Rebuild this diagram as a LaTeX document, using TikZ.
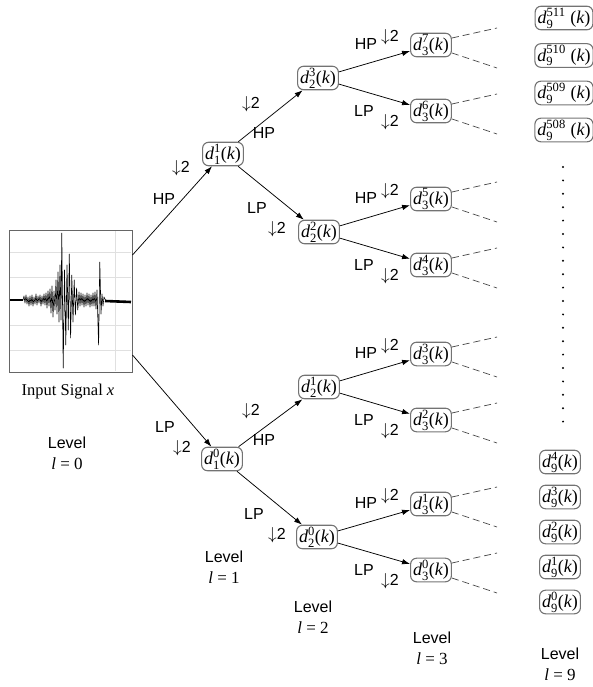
\documentclass[tikz,border=0pt]{standalone}
\usepackage{fontspec}
\setmainfont{Liberation Serif}
\setsansfont{Liberation Sans}
\usepackage{amsmath}
\usetikzlibrary{arrows.meta}
\newcommand\dk[2]{$\textit{d}^{\text{#2}}_{\text{#1}}\text{(}\textit{k}\text{)}$}
\newcommand\dks[2]{$\textit{d}^{\text{#2}}_{\text{#1}}\;\text{(}\textit{k}\text{)}$}
\newcommand\dsym{$\downarrow$2}
\begin{document}
\begin{tikzpicture}[x=1pt,y=-1pt,
 box/.style={draw=black!55, line width=1.1pt, rounded corners=6pt, inner xsep=2.5pt, inner ysep=1.5pt, minimum height=23pt, font=\rmfamily\fontsize{18}{20}\selectfont},
 edge/.style={line width=0.75pt, -{Latex[length=8pt,width=5.5pt]}},
 dline/.style={draw=black!70, line width=0.75pt, dash pattern=on 7pt off 4pt},
 lab/.style={inner sep=0pt, font=\sffamily\fontsize{16}{19}\selectfont},
 lvl/.style={inner sep=0pt, align=center, font=\sffamily\fontsize{16}{21}\selectfont}]
\useasboundingbox (0,0) rectangle (592,687);

% input signal panel
\node[draw=black!60, line width=1pt, minimum width=123pt, minimum height=142pt, inner sep=0pt] (sig) at (70.5,301) {};
\foreach \g in {252,277,325,350}{\draw[black!12, line width=0.5pt] (10,\g) -- (131,\g);}
\draw[black!12, line width=0.5pt] (115,231) -- (115,371);
\draw[line width=2.2pt] (10,300) -- (23,300);
\draw[line width=2.6pt] (105,301) -- (131,302);
\draw[line width=0.6pt, line join=round] plot coordinates {(22,300)(23,300)(24,296)(25,303)(26,295)(27,304)(28,297)(29,306)(30,296)(31,305)(32,295)(33,306)(34,297)(35,304)(36,294)(37,305)(38,296)(39,303)(40,295)(41,306)(42,296)(43,304)(44,294)(45,305)(46,293)(47,308)(48,291)(49,306)(50,289)(51,313)(52,286)(53,317)(54,291)(55,310)(56,280)(57,314)(58,272)(59,322)(60,265)(61,320)(61.8,233)(63.2,368)(64.5,270)(65.8,345)(67,265)(68.3,330)(69.3,254)(70.6,338)(71.8,275)(73,322)(74.2,280)(75.4,315)(76.6,288)(77.8,310)(79,292)(80,306)(81,293)(82,305)(83,294)(84,307)(85,295)(86,306)(87,293)(88,305)(89,294)(90,307)(91,295)(92,306)(93,293)(94,306)(95,292)(96,309)(97,290)(98.6,345)(99.8,262)(101,314)(102,294)(103,306)(104,297)(106,301)};
\node[inner sep=0pt, font=\rmfamily\fontsize{16.5}{20}\selectfont] (cap) at (68,392) {Input Signal \textit{x}};

% level 1 and 2 nodes
\node[box] (d11) at (223,154) {\dk{1}{1}};
\node[box] (d10) at (222,459) {\dk{1}{0}};
\node[box] (d23) at (318,78) {\dk{2}{3}};
\node[box] (d22) at (319,232) {\dk{2}{2}};
\node[box] (d21) at (319,387) {\dk{2}{1}};
\node[box] (d20) at (317,537) {\dk{2}{0}};

% level 3 nodes with dashed continuations
\foreach \n/\y in {7/45,6/111,5/199,4/265,3/354,2/420,1/504,0/570}{
 \node[box] (d3\n) at (431,\y) {\dk{3}{\n}};
 \coordinate (e3\n a) at (497,\y-17);
 \coordinate (e3\n b) at (497,\y+23);
 \draw[dline] ([yshift=7pt]d3\n.east) -- (e3\n a);
 \draw[dline] ([yshift=-8pt]d3\n.east) -- (e3\n b);
}

% level 9 nodes
\node[box] (d9a) at (564,18) {\dks{9}{511}};
\node[box] (d9b) at (564,55.5) {\dks{9}{510}};
\node[box] (d9c) at (564,93) {\dks{9}{509}};
\node[box] (d9d) at (564,130) {\dks{9}{508}};
\foreach \k in {0,...,19}{\fill (563,{167+\k*13.4}) circle (1.1pt);}
\foreach \n/\y in {4/462,3/497,2/532,1/567,0/602}{
 \node[box] (d9\n) at (560,\y) {\dk{9}{\n}};
}

% level 0 -> 1
\draw[edge] ([yshift=46pt]sig.east) -- (d11);
\draw[edge] ([yshift=-54pt]sig.east) -- (d10);
\node[lab] (l0a) at (181,168) {\dsym};
\node[lab] (l0b) at (164,199) {HP};
\node[lab] (l0c) at (165,427) {LP};
\node[lab] (l0d) at (182,448) {\dsym};

% level 1 -> 2
\draw[edge] (d11) -- (d23);
\draw[edge] (d11) -- (d22);
\draw[edge] (d10) -- (d21);
\draw[edge] (d10) -- (d20);
\node[lab] (l1a) at (251,104) {\dsym};
\node[lab] (l1b) at (264,133) {HP};
\node[lab] (l1c) at (257,208) {LP};
\node[lab] (l1d) at (277,229) {\dsym};
\node[lab] (l1e) at (251,411) {\dsym};
\node[lab] (l1f) at (264,440) {HP};
\node[lab] (l1g) at (254,514) {LP};
\node[lab] (l1h) at (277,535) {\dsym};

% level 2 -> 3
\foreach \p/\h/\hy/\l/\ly in {3/7/45/6/111,2/5/199/4/265,1/3/354/2/420,0/1/504/0/570}{
 \draw[edge] (d2\p) -- (d3\h);
 \draw[edge] (d2\p) -- (d3\l);
 \node[lab] (hp\h) at (366,\hy-1) {HP};
 \node[lab] (dh\h) at (390,\hy-8) {\dsym};
 \node[lab] (lp\l) at (364,\ly) {LP};
 \node[lab] (dl\l) at (390,\ly+11) {\dsym};
}

% level captions
\node[lvl] (lv0) at (67,453) {Level\\{\rmfamily\fontsize{17}{20}\selectfont\textit{l} = 0}};
\node[lvl] (lv1) at (224,567) {Level\\{\rmfamily\fontsize{17}{20}\selectfont\textit{l} = 1}};
\node[lvl] (lv2) at (313,617) {Level\\{\rmfamily\fontsize{17}{20}\selectfont\textit{l} = 2}};
\node[lvl] (lv3) at (432,648) {Level\\{\rmfamily\fontsize{17}{20}\selectfont\textit{l} = 3}};
\node[lvl] (lv9) at (560,664) {Level\\{\rmfamily\fontsize{17}{20}\selectfont\textit{l} = 9}};
\end{tikzpicture}
\end{document}
